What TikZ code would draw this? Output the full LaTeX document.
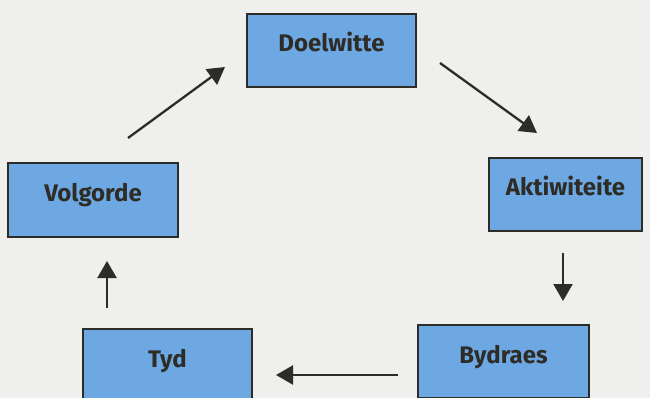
\documentclass[tikz,border=0pt]{standalone}
\usepackage{fontspec}
\setmainfont{Fira Sans}
\usetikzlibrary{arrows.meta}
\definecolor{bg}{HTML}{EFEFED}
\definecolor{boxblue}{HTML}{6EA8E2}
\definecolor{ink}{HTML}{2E2C26}
\tikzset{
  stagebox/.style={draw=ink, line width=2pt, fill=boxblue, inner sep=0pt,
    minimum height=73pt, text=ink, text height=18pt, text depth=15pt,
    font=\fontsize{24}{28}\selectfont\bfseries},
  flow/.style={draw=ink, line width=2.3pt, -{Triangle[length=17pt,width=19pt]}}
}
\begin{document}
\begin{tikzpicture}[x=1pt,y=-1pt]
\useasboundingbox (0,0) rectangle (650,398);
\fill[bg] (0,0) rectangle (650,398);
\clip (0,0) rectangle (650,398);
\node[stagebox, minimum width=169pt] (doel) at (331.5,50.5) {Doelwitte};
\node[stagebox, minimum width=153pt] (akt) at (565.5,194.5) {Aktiwiteite};
\node[stagebox, minimum width=171pt] (byd) at (503.5,361.5) {Bydraes};
\node[stagebox, minimum width=169pt] (tyd) at (167.5,365.5) {Tyd};
\node[stagebox, minimum width=170pt] (vol) at (93,200) {Volgorde};
\coordinate (a1s) at (128,138); \coordinate (a1e) at (225,67);
\coordinate (a2s) at (440,63); \coordinate (a2e) at (537,133);
\coordinate (a3s) at (563,253); \coordinate (a3e) at (563,301);
\coordinate (a4s) at (398,375); \coordinate (a4e) at (276,375);
\coordinate (a5s) at (107,308); \coordinate (a5e) at (107,261);
\draw[flow] (a1s) -- (a1e);
\draw[flow] (a2s) -- (a2e);
\draw[flow] (a3s) -- (a3e);
\draw[flow] (a4s) -- (a4e);
\draw[flow] (a5s) -- (a5e);
\end{tikzpicture}
\end{document}
